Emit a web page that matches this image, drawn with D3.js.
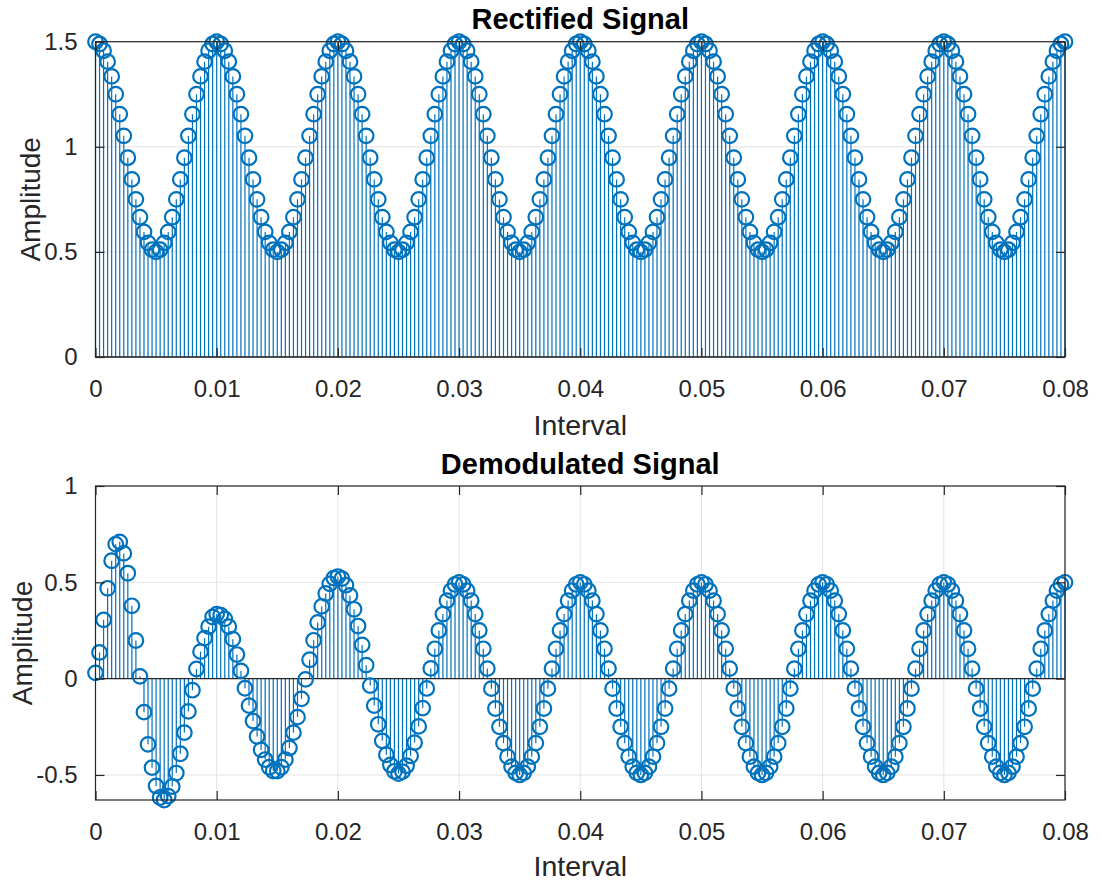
<!DOCTYPE html>
<html><head><meta charset="utf-8">
<script src="https://cdn.jsdelivr.net/npm/d3@7"></script>
<style>
body{margin:0;background:#fff}
svg{display:block}
text{font-family:"Liberation Sans",Arial,Helvetica,sans-serif}
</style></head>
<body><svg id="chart" width="1102" height="885"></svg>
<script>
// ---------- data ----------
const sampleInterval = 1 / 3000;   // seconds between samples
const rectified = [
1.5,1.489,1.457,1.405,1.335,1.25,1.155,1.052,0.948,0.845,0.75,0.665,0.595,0.543,0.511,0.5,0.511,0.543,0.595,0.665,0.75,0.845,0.948,1.052,1.155,1.25,1.335,1.405,1.457,1.489,
1.5,1.489,1.457,1.405,1.335,1.25,1.155,1.052,0.948,0.845,0.75,0.665,0.595,0.543,0.511,0.5,0.511,0.543,0.595,0.665,0.75,0.845,0.948,1.052,1.155,1.25,1.335,1.405,1.457,1.489,
1.5,1.489,1.457,1.405,1.335,1.25,1.155,1.052,0.948,0.845,0.75,0.665,0.595,0.543,0.511,0.5,0.511,0.543,0.595,0.665,0.75,0.845,0.948,1.052,1.155,1.25,1.335,1.405,1.457,1.489,
1.5,1.489,1.457,1.405,1.335,1.25,1.155,1.052,0.948,0.845,0.75,0.665,0.595,0.543,0.511,0.5,0.511,0.543,0.595,0.665,0.75,0.845,0.948,1.052,1.155,1.25,1.335,1.405,1.457,1.489,
1.5,1.489,1.457,1.405,1.335,1.25,1.155,1.052,0.948,0.845,0.75,0.665,0.595,0.543,0.511,0.5,0.511,0.543,0.595,0.665,0.75,0.845,0.948,1.052,1.155,1.25,1.335,1.405,1.457,1.489,
1.5,1.489,1.457,1.405,1.335,1.25,1.155,1.052,0.948,0.845,0.75,0.665,0.595,0.543,0.511,0.5,0.511,0.543,0.595,0.665,0.75,0.845,0.948,1.052,1.155,1.25,1.335,1.405,1.457,1.489,
1.5,1.489,1.457,1.405,1.335,1.25,1.155,1.052,0.948,0.845,0.75,0.665,0.595,0.543,0.511,0.5,0.511,0.543,0.595,0.665,0.75,0.845,0.948,1.052,1.155,1.25,1.335,1.405,1.457,1.489,
1.5,1.489,1.457,1.405,1.335,1.25,1.155,1.052,0.948,0.845,0.75,0.665,0.595,0.543,0.511,0.5,0.511,0.543,0.595,0.665,0.75,0.845,0.948,1.052,1.155,1.25,1.335,1.405,1.457,1.489,
1.5
];
const demodulated = [
0.03,0.136,0.305,0.469,0.612,0.698,0.71,0.65,0.547,0.378,0.198,0.012,-0.174,-0.341,-0.462,-0.557,-0.617,-0.63,-0.61,-0.56,-0.49,-0.39,-0.28,-0.17,-0.06,0.05,0.14,0.21,0.27,0.32,
0.335,0.33,0.31,0.27,0.205,0.125,0.04,-0.05,-0.14,-0.22,-0.3,-0.37,-0.42,-0.46,-0.48,-0.48,-0.46,-0.42,-0.36,-0.28,-0.2,-0.105,-0.004,0.098,0.199,0.292,0.375,0.442,0.492,0.522,
0.53,0.519,0.485,0.432,0.36,0.273,0.175,0.07,-0.036,-0.14,-0.237,-0.323,-0.395,-0.448,-0.481,-0.493,-0.483,-0.452,-0.401,-0.332,-0.248,-0.153,-0.051,0.053,0.155,0.25,0.335,0.405,0.457,0.489,
0.5,0.489,0.457,0.405,0.335,0.25,0.155,0.052,-0.052,-0.155,-0.25,-0.335,-0.405,-0.457,-0.489,-0.5,-0.489,-0.457,-0.405,-0.335,-0.25,-0.155,-0.052,0.052,0.155,0.25,0.335,0.405,0.457,0.489,
0.5,0.489,0.457,0.405,0.335,0.25,0.155,0.052,-0.052,-0.155,-0.25,-0.335,-0.405,-0.457,-0.489,-0.5,-0.489,-0.457,-0.405,-0.335,-0.25,-0.155,-0.052,0.052,0.155,0.25,0.335,0.405,0.457,0.489,
0.5,0.489,0.457,0.405,0.335,0.25,0.155,0.052,-0.052,-0.155,-0.25,-0.335,-0.405,-0.457,-0.489,-0.5,-0.489,-0.457,-0.405,-0.335,-0.25,-0.155,-0.052,0.052,0.155,0.25,0.335,0.405,0.457,0.489,
0.5,0.489,0.457,0.405,0.335,0.25,0.155,0.052,-0.052,-0.155,-0.25,-0.335,-0.405,-0.457,-0.489,-0.5,-0.489,-0.457,-0.405,-0.335,-0.25,-0.155,-0.052,0.052,0.155,0.25,0.335,0.405,0.457,0.489,
0.5,0.489,0.457,0.405,0.335,0.25,0.155,0.052,-0.052,-0.155,-0.25,-0.335,-0.405,-0.457,-0.489,-0.5,-0.489,-0.457,-0.405,-0.335,-0.25,-0.155,-0.052,0.052,0.155,0.25,0.335,0.405,0.457,0.489,
0.5
];
const xTicks = [0, 0.01, 0.02, 0.03, 0.04, 0.05, 0.06, 0.07, 0.08];
const xTickLabels = ["0", "0.01", "0.02", "0.03", "0.04", "0.05", "0.06", "0.07", "0.08"];
const topYTicks = [0, 0.5, 1, 1.5];
const topYTickLabels = ["0", "0.5", "1", "1.5"];
const bottomYTicks = [-0.5, 0, 0.5, 1];
const bottomYTickLabels = ["-0.5", "0", "0.5", "1"];
const titles = ["Rectified Signal", "Demodulated Signal"];
const xLabel = "Interval";
const yLabel = "Amplitude";

// ---------- drawing ----------
const svg = d3.select("#chart");
const BLUE = "#0072BD", AX = "#262626", GRID = "#e3e3e3";
const xLeft = 95.5, xRight = 1065;

function panel(o) {
  const x = d3.scaleLinear().domain([0, 0.08]).range([xLeft, xRight]);
  const y = d3.scaleLinear().domain(o.yDomain).range([o.bottom, o.top]);
  const g = svg.append("g");
  const pts = o.values.map((v, i) => ({t: i * sampleInterval, v}));

  // grid
  g.selectAll(".gx").data(xTicks).join("line")
    .attr("x1", d => x(d)).attr("x2", d => x(d))
    .attr("y1", o.top).attr("y2", o.bottom)
    .attr("stroke", GRID).attr("stroke-width", 1);
  g.selectAll(".gy").data(o.yTicks).join("line")
    .attr("x1", xLeft).attr("x2", xRight)
    .attr("y1", d => y(d)).attr("y2", d => y(d))
    .attr("stroke", GRID).attr("stroke-width", 1);

  // stems
  g.selectAll(".stem").data(pts).join("line")
    .attr("x1", d => x(d.t)).attr("x2", d => x(d.t))
    .attr("y1", y(0)).attr("y2", d => y(d.v))
    .attr("stroke", BLUE).attr("stroke-width", 1.2);
  // baseline
  g.append("line").attr("x1", xLeft).attr("x2", xRight)
    .attr("y1", y(0)).attr("y2", y(0)).attr("stroke", AX).attr("stroke-width", 1.2);
  // markers
  g.selectAll(".mk").data(pts).join("circle")
    .attr("cx", d => x(d.t)).attr("cy", d => y(d.v)).attr("r", 7.3)
    .attr("fill", "none").attr("stroke", BLUE).attr("stroke-width", 2.2);

  // box
  g.append("rect").attr("x", xLeft).attr("y", o.top)
    .attr("width", xRight - xLeft).attr("height", o.bottom - o.top)
    .attr("fill", "none").attr("stroke", AX).attr("stroke-width", 1.2);

  // inward ticks on all four sides
  const tl = 9;
  const xb = d3.axisBottom(x).tickValues(xTicks).tickSize(-tl).tickFormat((d, i) => xTickLabels[i]).tickPadding(tl + 14);
  const xt = d3.axisTop(x).tickValues(xTicks).tickSize(-tl).tickFormat("");
  const yl = d3.axisLeft(y).tickValues(o.yTicks).tickSize(-tl).tickFormat((d, i) => o.yTickLabels[i]).tickPadding(tl + 9);
  const yr = d3.axisRight(y).tickValues(o.yTicks).tickSize(-tl).tickFormat("");
  const styleAxis = sel => {
    sel.select(".domain").remove();
    sel.selectAll(".tick line").attr("stroke", AX).attr("stroke-width", 1.2);
    sel.selectAll(".tick text").attr("fill", AX).attr("font-size", 24)
      .style("font-family", '"Liberation Sans",Arial,Helvetica,sans-serif');
  };
  g.append("g").attr("transform", `translate(0,${o.bottom})`).call(xb).call(styleAxis);
  g.append("g").attr("transform", `translate(0,${o.top})`).call(xt).call(styleAxis);
  g.append("g").attr("transform", `translate(${xLeft},0)`).call(yl).call(styleAxis);
  g.append("g").attr("transform", `translate(${xRight},0)`).call(yr).call(styleAxis);

  // texts
  g.append("text").attr("x", (xLeft + xRight) / 2).attr("y", o.titleY)
    .attr("text-anchor", "middle").attr("font-size", 29).attr("font-weight", "bold")
    .attr("fill", "#000").text(o.title);
  g.append("text").attr("x", (xLeft + xRight) / 2).attr("y", o.xLabelY)
    .attr("text-anchor", "middle").attr("font-size", 28.5).attr("fill", AX).text(xLabel);
  g.append("text").attr("transform", `translate(${o.yLabelX},${(o.top + o.bottom) / 2}) rotate(-90)`)
    .attr("text-anchor", "middle").attr("font-size", 28).attr("fill", AX).text(yLabel);
}

panel({values: rectified, yDomain: [0, 1.5], top: 41.7, bottom: 357,
  yTicks: topYTicks, yTickLabels: topYTickLabels, title: titles[0],
  titleY: 29, xLabelY: 435, yLabelX: 40});
panel({values: demodulated, yDomain: [d3.min(demodulated), 1], top: 486, bottom: 800,
  yTicks: bottomYTicks, yTickLabels: bottomYTickLabels, title: titles[1],
  titleY: 474, xLabelY: 876, yLabelX: 32});
</script></body></html>
